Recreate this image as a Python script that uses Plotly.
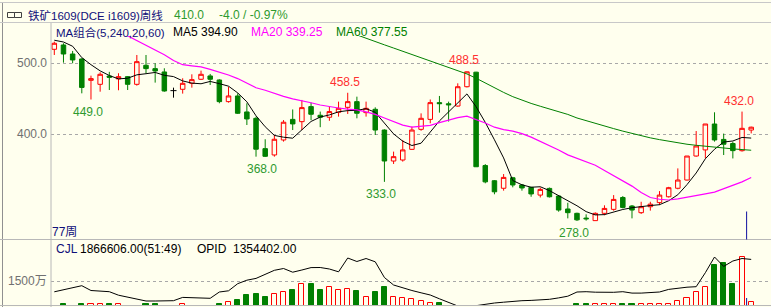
import plotly.graph_objects as go
import pandas as pd

W, H = 771, 307
BG = "#FFFFEE"

# ---------------- data ----------------
opens = [519.7, 525.8, 513.1, 506.1, 476.0, 470.4, 482.0, 478.0, 481.2, 470.4,
         497.2, 492.5, 487.8, 461.5, 463.4, 471.8, 477.5, 482.2, 476.5, 446.0,
         454.0, 431.5, 422.5, 379.8, 370.9, 392.0, 421.0, 417.8, 439.0, 426.8,
         424.0, 431.0, 438.0, 446.0, 430.5, 435.2, 406.0, 362.4, 363.8, 378.8,
         407.0, 421.0, 444.6, 443.0, 439.8, 467.0, 487.5, 356.0, 334.6, 324.0,
         338.8, 328.6, 325.2, 314.4, 323.8, 313.0, 294.8, 288.7, 282.0, 278.4,
         288.7, 294.3, 311.0, 299.0, 289.6, 298.0, 303.8, 312.0, 324.0, 335.6,
         369.4, 378.0, 414.5, 392.8, 387.0, 376.9, 406.0]
highs = [530.5, 528.2, 517.4, 507.0, 482.6, 487.3, 488.0, 486.0, 482.0, 511.7,
         511.7, 500.0, 493.0, 465.7, 478.9, 484.5, 489.7, 485.0, 477.5, 467.0,
         457.7, 443.7, 424.9, 393.0, 399.0, 420.0, 435.0, 448.4, 444.6, 432.0,
         439.0, 446.0, 458.5, 453.0, 446.0, 438.0, 407.0, 375.6, 392.0, 410.8,
         429.5, 449.0, 454.0, 446.0, 471.8, 488.5, 488.0, 358.0, 335.6, 344.0,
         340.0, 330.0, 326.0, 325.0, 325.0, 314.4, 303.6, 289.6, 287.3, 290.0,
         300.0, 314.4, 313.0, 300.4, 305.0, 305.0, 320.0, 326.0, 352.0, 369.4,
         404.6, 414.5, 431.0, 401.0, 389.6, 432.0, 410.8]
lows = [511.7, 500.9, 500.0, 457.7, 449.0, 460.0, 462.4, 462.0, 462.4, 468.5,
        485.9, 472.8, 460.0, 451.6, 457.3, 465.7, 476.5, 469.5, 443.7, 444.6,
        428.6, 413.1, 368.5, 368.0, 368.5, 389.7, 406.0, 406.0, 420.0, 410.0,
        419.0, 424.9, 428.6, 422.5, 424.9, 399.0, 333.0, 358.2, 361.5, 378.0,
        405.0, 415.5, 430.5, 418.0, 439.0, 466.0, 354.3, 331.0, 315.5, 320.6,
        325.3, 320.6, 312.0, 311.0, 311.0, 291.0, 281.6, 278.0, 278.4, 278.4,
        286.0, 292.4, 295.6, 281.6, 287.8, 292.5, 300.4, 311.0, 322.5, 335.0,
        368.5, 366.0, 389.7, 370.8, 366.0, 375.6, 401.3]
closes = [528.2, 513.1, 504.7, 466.0, 478.4, 484.5, 480.3, 481.2, 470.4, 502.3,
          492.5, 489.2, 461.0, 461.5, 471.8, 477.0, 484.5, 477.5, 446.0, 454.0,
          429.6, 421.6, 379.0, 369.0, 393.0, 417.0, 414.6, 437.6, 428.2, 424.0,
          432.0, 436.6, 446.0, 429.6, 436.6, 406.0, 362.4, 368.5, 378.0, 406.0,
          422.5, 444.6, 443.2, 441.6, 467.0, 488.0, 354.3, 333.0, 319.0, 339.3,
          328.6, 324.4, 316.0, 322.4, 312.0, 293.3, 289.6, 279.5, 281.0, 288.7,
          295.6, 308.3, 297.0, 293.3, 298.0, 301.6, 314.4, 324.8, 335.6, 369.4,
          383.5, 414.5, 392.0, 386.0, 377.0, 408.4, 410.0]

# volume (万) and open interest line, same panel scale
volumes = [450, 580, 500, 580, 580, 580, 580, 580, 500, 500,
           580, 580, 480, 480, 580, 500, 500, 500, 600, 673,
           740, 940, 980, 847, 967, 1060, 1127, 1367, 1367, 1127,
           1247, 1127, 1167, 1087, 847, 1060, 1247, 873, 807, 767,
           700, 633, 633, 520, 450, 450, 450, 450, 450, 450,
           450, 450, 450, 450, 450, 450, 450, 580, 580, 580,
           580, 580, 580, 580, 580, 580, 580, 580, 713, 807,
           1047, 1273, 2140, 2207, 1367, 2447, 673]
opid = [1068, 1156, 1236, 1312, 1120, 1092, 1072, 932, 852, 780,
        700, 700, 708, 712, 844, 828, 808, 808, 1060, 1108,
        1392, 1532, 1604, 1780, 1928, 2000, 1852, 1940, 2036, 2040,
        1980, 1868, 2420, 2280, 2400, 2268, 1640, 1340, 1224, 1120,
        1028, 940, 788, 640, 500, 460, 520, 580, 620, 652,
        688, 712, 724, 736, 768, 824, 892, 1060, 1072, 1052,
        1036, 1048, 1072, 1016, 1016, 1028, 1060, 1164, 1220, 1252,
        1272, 1832, 2460, 2084, 2300, 2400, 2364]

ma5_head = [532.5, 530.0, 524.0, 508.0]
ma20_start = 6
ma20 = [552, 545.5, 539, 532.5, 526, 519, 512, 504, 498, 496.5, 495, 491.5, 488, 483.5,
        478.5, 472.5, 465.5, 462, 457.5, 453.5, 450, 447.5, 444.5, 441.3, 439, 437, 435.5,
        434.5, 431.5, 428, 423, 418, 413, 410, 411, 412.5, 416.5, 420, 423.5, 425.5, 421,
        416, 410, 406.5, 404.5, 401, 396, 390, 385, 378, 371, 366, 361, 356.5, 349, 341.5,
        334.5, 327, 318, 311, 308.5, 307.5, 309, 311, 313.5, 316, 318.5, 323, 328, 333, 339.25]
ma60_start = 33
ma60 = [540, 535, 530.5, 526, 521.5, 517, 512, 507.5, 503, 498.5, 494, 489.5, 485, 479,
        472, 465, 459, 453, 448, 443.5, 439.5, 436, 432, 428, 423, 419, 415, 411.5, 408,
        404.5, 401, 398, 395, 392.5, 390, 388, 386, 384.5, 383, 382, 380.5, 379.5, 378.5, 377.55]

doji = [13]
hl_idx = [4, 23, 32, 36, 45, 57, 75]
hl_kind = ["low", "low", "high", "low", "high", "low", "high"]
cursor_idx = 75.5
price_ticks = [400, 500]
vol_ticks = [1500]

# ---------------- helpers ----------------
def px(x):
    return x / W

def py(y):
    return 1 - y / H

n = len(closes)
idx = list(range(n))

fig = go.Figure()

# candles
o2 = [None if i in doji else v for i, v in enumerate(opens)]
h2 = [None if i in doji else v for i, v in enumerate(highs)]
l2 = [None if i in doji else v for i, v in enumerate(lows)]
c2 = [None if i in doji else v for i, v in enumerate(closes)]
fig.add_trace(go.Candlestick(
    x=idx, open=o2, high=h2, low=l2, close=c2,
    increasing=dict(line=dict(color="#FF0000", width=1), fillcolor=BG),
    decreasing=dict(line=dict(color="#008000", width=1), fillcolor="#008000"),
    whiskerwidth=0, xaxis="x", yaxis="y", hoverinfo="skip"))

# doji crosses
dx, dy = [], []
for d in doji:
    dx += [d, d, None, d - 0.33, d + 0.33, None]
    dy += [lows[d], highs[d], None, opens[d], opens[d], None]
fig.add_trace(go.Scatter(x=dx, y=dy, mode="lines", line=dict(color="black", width=1),
                         xaxis="x", yaxis="y", hoverinfo="skip"))

# moving averages
ma5 = ma5_head + pd.Series(closes).rolling(5).mean().tolist()[len(ma5_head):]
fig.add_trace(go.Scatter(x=idx, y=ma5, mode="lines", line=dict(color="black", width=1),
                         xaxis="x", yaxis="y", hoverinfo="skip"))
fig.add_trace(go.Scatter(x=list(range(ma20_start, ma20_start + len(ma20))), y=ma20, mode="lines",
                         line=dict(color="#FF00FF", width=1.2), xaxis="x", yaxis="y", hoverinfo="skip"))
fig.add_trace(go.Scatter(x=list(range(ma60_start, ma60_start + len(ma60))), y=ma60, mode="lines",
                         line=dict(color="#008000", width=1), xaxis="x", yaxis="y", hoverinfo="skip"))

# volume bars
up = [i for i in idx if closes[i] >= opens[i]]
dn = [i for i in idx if closes[i] < opens[i]]
fig.add_trace(go.Bar(x=up, y=[volumes[i] for i in up], width=0.55,
                     marker=dict(color=BG, line=dict(color="#FF0000", width=1)),
                     xaxis="x2", yaxis="y2", hoverinfo="skip"))
fig.add_trace(go.Bar(x=dn, y=[volumes[i] for i in dn], width=0.55,
                     marker=dict(color="#008000", line=dict(color="#008000", width=1)),
                     xaxis="x2", yaxis="y2", hoverinfo="skip"))
fig.add_trace(go.Scatter(x=idx, y=opid, mode="lines", line=dict(color="black", width=1),
                         xaxis="x2", yaxis="y2", hoverinfo="skip"))

# ---------------- axes ----------------
x_left_px, x_right_px = 51, 771
xr = [-0.36, 78.16]
main_top, main_bot = 36, 239.5
vol_top, vol_bot = 240, 305.3
p_per_px = 1 / 0.71
yr_main = [400 - (main_bot - 134.3) * p_per_px, 400 + (134.3 - main_top) * p_per_px]
yr_vol = [1500 - (vol_bot - 281) * 40, 1500 + (281 - vol_top) * 40]

axis_common = dict(showticklabels=False, ticks="", zeroline=False, showline=False, fixedrange=True)
fig.update_layout(
    width=W, height=H, margin=dict(l=0, r=0, t=0, b=0),
    paper_bgcolor=BG, plot_bgcolor=BG, showlegend=False, bargap=0,
    xaxis=dict(domain=[px(x_left_px), 1], range=xr, showgrid=False, rangeslider=dict(visible=False),
               anchor="y", **axis_common),
    yaxis=dict(domain=[py(main_bot), py(main_top)], range=yr_main, tickvals=price_ticks,
               showgrid=True, gridcolor="#A8A8A8", griddash="3px,3px", gridwidth=1,
               anchor="x", **axis_common),
    xaxis2=dict(domain=[px(x_left_px), 1], range=xr, showgrid=False, matches="x",
                anchor="y2", **axis_common),
    yaxis2=dict(domain=[py(vol_bot), py(vol_top)], range=yr_vol, tickvals=vol_ticks,
                showgrid=True, gridcolor="#A8A8A8", griddash="3px,3px", gridwidth=1,
                anchor="x2", **axis_common),
)

# ---------------- frame lines ----------------
shapes = [
    dict(type="line", xref="paper", yref="paper", x0=px(x_left_px) , x1=px(x_left_px),
         y0=py(22.5), y1=py(307), line=dict(color="#B8B8B8", width=1)),
    dict(type="line", xref="paper", yref="paper", x0=px(2.5), x1=px(2.5), y0=py(3), y1=py(307),
         line=dict(color="#909090", width=1)),
    dict(type="line", xref="paper", yref="paper", x0=0, x1=1, y0=py(2.5), y1=py(2.5),
         line=dict(color="#C8C8C8", width=1)),
    dict(type="line", xref="paper", yref="paper", x0=0, x1=1, y0=py(22.5), y1=py(22.5),
         line=dict(color="#C8C8C8", width=1)),
    dict(type="line", xref="paper", yref="paper", x0=0, x1=1, y0=py(239.5), y1=py(239.5),
         line=dict(color="#B8B8B8", width=1)),
    dict(type="line", xref="paper", yref="paper", x0=0, x1=1, y0=py(305.5), y1=py(305.5),
         line=dict(color="#B8B8B8", width=1)),
    # chain icon
    dict(type="rect", xref="paper", yref="paper", x0=px(7.5), x1=px(14.5), y0=py(17.5), y1=py(12.5),
         line=dict(color="#404040", width=1)),
    dict(type="rect", xref="paper", yref="paper", x0=px(14.5), x1=px(21.5), y0=py(17.5), y1=py(12.5),
         line=dict(color="#404040", width=1)),
    # cursor
    dict(type="line", xref="x", yref="paper", x0=cursor_idx, x1=cursor_idx, y0=py(239.5), y1=py(211.5),
         line=dict(color="#1010A0", width=1)),
    dict(type="line", xref="x", yref="paper", x0=cursor_idx, x1=cursor_idx, y0=py(305.3), y1=py(298),
         line=dict(color="#1010A0", width=1)),
]
fig.update_layout(shapes=shapes)

# ---------------- texts ----------------
FONT = "Liberation Sans, Noto Sans CJK SC, sans-serif"
NAVY = "#10107A"
GREEN_T = "#2E9A2E"
ann = []

def txt(x, y, s, color, size=12, anchor="left"):
    ann.append(dict(xref="paper", yref="paper", x=px(x), y=py(y), text=s, showarrow=False,
                    xanchor=anchor, yanchor="middle", font=dict(family=FONT, size=size, color=color)))

txt(26, 15, "铁矿1609(DCE i1609)周线", NAVY, 11.5)
txt(172, 15, "410.0", GREEN_T, 12)
txt(217, 15, "-4.0 / -0.97%", GREEN_T, 12)
txt(54, 32, "MA组合(5,240,20,60)", NAVY, 11.5)
txt(171, 32, "MA5 394.90", "#000000", 12)
txt(249, 32, "MA20 339.25", "#FF00FF", 12)
txt(334, 32, "MA60 377.55", "#008000", 12)
for t in price_ticks:
    ann.append(dict(xref="paper", yref="y", x=px(49.5), y=t, text=f"{t:.1f}", showarrow=False,
                    xanchor="right", yanchor="middle", font=dict(family=FONT, size=12, color="#707070")))
for t in vol_ticks:
    ann.append(dict(xref="paper", yref="y2", x=px(49.5), y=t, text=f"{t}万", showarrow=False,
                    xanchor="right", yanchor="middle",
                    font=dict(family=FONT, size=12, color="#707070")))
txt(50, 232, "77周", NAVY, 12)
txt(54, 248.5, "CJL", NAVY, 12)
txt(78, 248.5, "1866606.00(51:49)", "#000000", 12)
txt(195, 248.5, "OPID", "#000000", 12)
txt(231, 248.5, "1354402.00", "#000000", 12)

for i, k in zip(hl_idx, hl_kind):
    if k == "low":
        ann.append(dict(xref="x", yref="y", x=i, y=lows[i], text=f"{lows[i]:.1f}", showarrow=False,
                        xanchor="center", yanchor="top", xshift=-3, yshift=-3,
                        font=dict(family=FONT, size=12, color=GREEN_T)))
    else:
        ann.append(dict(xref="x", yref="y", x=i, y=highs[i], text=f"{highs[i]:.1f}", showarrow=False,
                        xanchor="center", yanchor="bottom", xshift=-3, yshift=2,
                        font=dict(family=FONT, size=12, color="#FF3030")))
fig.update_layout(annotations=ann)

fig.write_html("out.html")
